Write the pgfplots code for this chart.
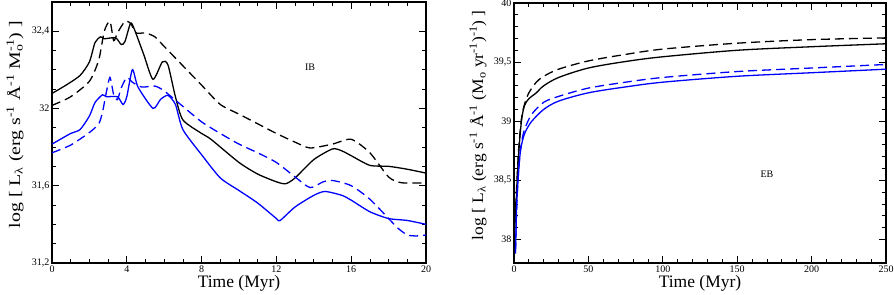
\documentclass[border=0pt]{standalone}
\usepackage{pgfplots}
\pgfplotsset{compat=1.18}
\usepackage{fontspec}
\setmainfont{Liberation Serif}
\usepackage{graphicx}
\begin{document}
\begin{tikzpicture}
\path[use as bounding box] (0,0) rectangle (894bp,-295bp);
\pgfplotsset{
  every axis/.append style={
    scale only axis,
    axis line style={line width=1.1bp},
    tick style={line width=0.8bp,black},
    major tick length=7bp,
    minor tick length=4bp,
    tick align=inside,
    xtick pos=both, ytick pos=both,
    tick label style={font=\fontsize{10bp}{11bp}\selectfont},
    /pgf/number format/assume math mode=true,
    /pgf/number format/use comma,
    /pgf/number format/1000 sep={},
    xlabel style={font=\fontsize{17.5bp}{19bp}\selectfont, at={(axis description cs:0.5,0)}, anchor=north, yshift=-9bp},
    ylabel style={font=\fontsize{16bp}{18bp}\selectfont},
    xticklabel style={yshift=1bp},
    yticklabel style={xshift=1bp},
  },
  sol/.style={line width=1.3bp},
  das/.style={line width=1.3bp, dash pattern=on 9bp off 5bp},
}
% ---------------- Left panel (IB) ----------------
\begin{axis}[
  at={(52bp,-263bp)}, anchor=south west,
  width=374bp, height=261bp,
  xmin=0, xmax=20, ymin=31.2, ymax=32.55,
  xtick={0,4,8,12,16,20}, minor x tick num=3,
  ytick={31.2,31.6,32,32.4}, minor y tick num=3,
  xlabel={Time (Myr)},
  ylabel={\scalebox{1.24}[1]{log [ L\textsubscript{λ} (erg s\textsuperscript{-1} Å\textsuperscript{-1} M\rlap{\textsubscript{o}}\textsuperscript{-1}) ]}},
  ylabel style={at={(axis description cs:0,0.53)}, anchor=center, yshift=37bp},
]
% black solid
\addplot[sol, black, smooth, tension=0.4] coordinates {
(0,32.077)(0.75,32.12)(1.5,32.17)(2,32.24)(2.3,32.34)(2.6,32.37)(2.8,32.36)(3.4,32.365)(3.7,32.33)(3.9,32.345)(4.2,32.44)(4.4,32.41)(4.9,32.28)(5.4,32.15)(5.9,32.24)(6.2,32.225)(6.6,32.06)(7,31.94)(8,31.87)(8.5,31.84)(10,31.72)(11,31.66)(12,31.62)(12.5,31.61)(13,31.64)(14,31.735)(15,31.79)(15.5,31.78)(16,31.755)(17,31.705)(18,31.70)(19,31.685)(20,31.665)};
% black dashed
\addplot[das, black, smooth, tension=0.4] coordinates {
(0,32.015)(1,32.06)(2,32.14)(2.5,32.25)(2.8,32.40)(3.1,32.45)(3.3,32.35)(3.5,32.39)(3.9,32.45)(4.2,32.44)(4.5,32.39)(5,32.39)(5.5,32.37)(6,32.32)(7,32.22)(8,32.12)(9,32.02)(10,31.97)(11,31.92)(12,31.87)(13,31.825)(13.8,31.795)(15,31.815)(16,31.84)(17,31.77)(18,31.645)(18.7,31.615)(20,31.615)};
% blue solid
\addplot[sol, blue, smooth, tension=0.4] coordinates {
(0,31.815)(1,31.87)(1.5,31.89)(2,31.96)(2.3,32.03)(2.7,32.07)(2.9,32.06)(3.5,32.06)(3.8,32.02)(4.0,32.06)(4.3,32.2)(4.6,32.11)(5.4,32.0)(5.8,32.046)(6.2,32.067)(6.6,32.02)(7,31.89)(8,31.76)(9,31.64)(10,31.575)(11,31.51)(12,31.43)(12.2,31.42)(13,31.49)(14,31.55)(14.6,31.57)(15.5,31.55)(16,31.525)(17,31.465)(18,31.43)(19,31.42)(20,31.40)};
% blue dashed
\addplot[das, blue, smooth, tension=0.4] coordinates {
(0,31.77)(1,31.81)(2,31.875)(2.5,31.92)(2.7,31.98)(2.9,32.08)(3.1,32.16)(3.3,32.07)(3.5,32.045)(3.7,32.105)(4.0,32.16)(4.3,32.135)(4.8,32.11)(5.5,32.115)(6,32.09)(7,32.01)(8,31.93)(9,31.87)(10,31.815)(11,31.77)(12,31.72)(13,31.645)(13.8,31.59)(14.5,31.62)(15,31.627)(16,31.60)(17,31.53)(18,31.43)(18.5,31.38)(19,31.345)(19.5,31.34)(20,31.345)};
\node[font=\fontsize{10bp}{12bp}\selectfont] at (axis cs:13.8,32.21) {IB};
\end{axis}
% ---------------- Right panel (EB) ----------------
\begin{axis}[
  at={(514bp,-263bp)}, anchor=south west,
  width=372bp, height=260bp,
  xmin=0, xmax=250, ymin=37.8, ymax=40,
  xtick={0,50,100,150,200,250}, minor x tick num=4,
  ytick={38,38.5,39,39.5,40}, minor y tick num=4,
  xlabel={Time (Myr)},
  ylabel={\scalebox{1.09}[1]{log [ L\textsubscript{λ} (erg s\textsuperscript{-1} Å\textsuperscript{-1} (M\textsubscript{o} yr\textsuperscript{-1})\textsuperscript{-1}) ]}},
  ylabel style={at={(axis description cs:0,0.53)}, anchor=center, yshift=36bp},
]
% black dashed
\addplot[das, black, smooth, tension=0.5] coordinates {
(0.5,38.15)(1,38.25)(3,38.74)(5,39.02)(7,39.14)(10,39.24)(15,39.33)(20,39.38)(30,39.44)(50,39.51)(75,39.565)(100,39.61)(150,39.66)(200,39.69)(250,39.705)};
% black solid
\addplot[sol, black, smooth, tension=0.5] coordinates {
(0.5,38.1)(1,38.2)(3,38.7)(5,39.0)(7,39.13)(10,39.19)(15,39.24)(20,39.30)(30,39.37)(50,39.45)(75,39.505)(100,39.545)(150,39.60)(200,39.63)(250,39.655)};
% blue dashed
\addplot[das, blue, smooth, tension=0.5] coordinates {
(1,37.9)(2,38.35)(4,38.72)(6,38.88)(8,38.96)(12,39.06)(20,39.16)(30,39.21)(50,39.28)(75,39.33)(100,39.37)(150,39.42)(200,39.45)(250,39.48)};
% blue solid
\addplot[sol, blue, smooth, tension=0.5] coordinates {
(1,37.88)(2,38.34)(4,38.71)(6,38.85)(8,38.92)(12,39.0)(20,39.1)(30,39.17)(50,39.24)(75,39.29)(100,39.33)(150,39.38)(200,39.41)(250,39.44)};
\node[font=\fontsize{10bp}{12bp}\selectfont] at (axis cs:170,38.55) {EB};
\end{axis}
\end{tikzpicture}
\end{document}
